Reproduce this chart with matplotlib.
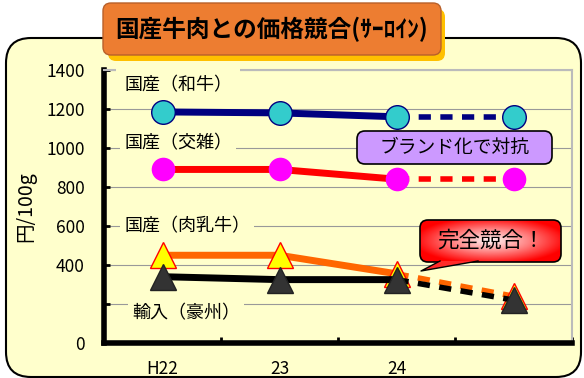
import matplotlib
matplotlib.use("Agg")
import matplotlib.pyplot as plt
from matplotlib.patches import FancyBboxPatch, Polygon
from matplotlib.colors import LinearSegmentedColormap
import numpy as np

plt.rcParams['font.family'] = ['Noto Sans CJK JP', 'DejaVu Sans']

years = ["H22", "23", "24", ""]
wagyu = [1185, 1180, 1160, 1160]
kousha = [890, 890, 840, 840]
nyuyushi = [450, 450, 355, 240]
import_aus = [340, 325, 325, 220]
yticks = [0, 200, 400, 600, 800, 1000, 1200, 1400]
ytick_labels = ["0", "", "400", "600", "800", "1000", "1200", "1400"]

W, H = 584, 378
fig = plt.figure(figsize=(W/100, H/100), dpi=100)
fig.patch.set_facecolor('white')
bg = '#FFFFCC'
FA = W / H

# outer frame
frame = FancyBboxPatch((6/W, 1/H), 575/W, 339/H,
                       boxstyle="round,pad=0,rounding_size=%f" % (25/W),
                       transform=fig.transFigure, facecolor=bg, edgecolor='black',
                       linewidth=1.5, zorder=-5, mutation_aspect=FA)
fig.patches.append(frame)

AX_L, AX_R, AX_T, AX_B = 104, 572, 70, 343
AW, AH = AX_R - AX_L, AX_B - AX_T
ax = fig.add_axes([AX_L/W, 1-AX_B/H, AW/W, AH/H])
ax.set_zorder(1)
ax.set_facecolor(bg)
x = np.arange(4)

def axfrac(px, py):
    return (px - AX_L) / AW, (AX_B - py) / AH

ax.set_yticks(yticks)
ax.set_yticklabels(ytick_labels, fontsize=12.5)
ax.yaxis.grid(True, color='#999999', linewidth=0.8)
ax.set_axisbelow(True)
ax.set_xticks(x)
ax.set_xticklabels(years, fontsize=12.5)
ax.tick_params(axis='x', length=0, pad=12)
ax.set_xticks([0.5, 1.5, 2.5, 3.5], minor=True)
ax.tick_params(axis='x', which='minor', direction='in', length=4, width=2)
ax.tick_params(axis='y', direction='in', length=4, width=2, pad=14)
for s in ['left', 'bottom']:
    ax.spines[s].set_linewidth(4)
    ax.spines[s].set_color('black')
for s in ['top', 'right']:
    ax.spines[s].set_color('#BBBBBB')
    ax.spines[s].set_linewidth(1.5)

ax.set_ylabel("円/100g", fontsize=14)
ax.yaxis.set_label_coords(-0.145, 0.5)

def series(vals, lc, marker, mfc, mec, ms, mew, z):
    ax.plot(x[:3], vals[:3], color=lc, linewidth=5, solid_capstyle='butt', zorder=z)
    ax.plot(x[2:], vals[2:], color=lc, linewidth=4, linestyle=(0, (2.2, 1.7)), zorder=z)
    ax.plot(x, vals, linestyle='none', marker=marker, markerfacecolor=mfc,
            markeredgecolor=mec, markersize=ms, markeredgewidth=mew, zorder=z+0.5)

series(wagyu, '#000080', 'o', '#33CCCC', '#000080', 17, 1, 5)
series(kousha, '#FF0000', 'o', '#FF00FF', '#FF00FF', 17, 0, 5)
series(nyuyushi, '#FF6600', '^', '#FFFF00', '#FF0000', 19, 1, 5)
series(import_aus, '#000000', '^', '#333333', '#222222', 19, 1, 6)

for txt, px, py, pad in [("国産（和牛）", 124, 85, 6), ("国産（交雑）", 124, 143, 3),
                         ("国産（肉乳牛）", 124, 226, 3), ("輸入（豪州）", 132, 313, 3)]:
    fx, fy = axfrac(px, py)
    ax.text(fx, fy, txt, fontsize=13, va='center', ha='left', zorder=3,
            bbox=dict(facecolor=bg, edgecolor='none', pad=pad),
            transform=ax.transAxes, clip_on=False)

# lavender box
AA = AW / AH
x0, y1 = axfrac(357, 131)
x1, y0 = axfrac(552, 164)
lav = FancyBboxPatch((x0, y0), x1-x0, y1-y0, boxstyle="round,pad=0,rounding_size=%f" % (8/AW),
                     transform=ax.transAxes, facecolor='#CC99FF', edgecolor='black',
                     linewidth=1.2, zorder=8, mutation_aspect=AA)
ax.add_patch(lav)
ax.text((x0+x1)/2, (y0+y1)/2, "ブランド化で対抗", fontsize=13.5, ha='center', va='center',
        transform=ax.transAxes, zorder=9)

# red callout with radial gradient
x0, y1 = axfrac(420, 220)
x1, y0 = axfrac(561, 262)
tail = [axfrac(440, 261), axfrac(421, 271), axfrac(478, 261)]
tp = Polygon(tail, closed=True, transform=ax.transAxes, facecolor='#FF2A2A',
             edgecolor='none', zorder=8.6)
ax.add_patch(tp)
ax.plot([tail[0][0], tail[1][0], tail[2][0]], [tail[0][1], tail[1][1], tail[2][1]],
        color='black', linewidth=1.0, transform=ax.transAxes, zorder=8.7)
red = FancyBboxPatch((x0, y0), x1-x0, y1-y0, boxstyle="round,pad=0,rounding_size=%f" % (8/AW),
                     transform=ax.transAxes, facecolor='none', edgecolor='black',
                     linewidth=1.2, zorder=8.5, mutation_aspect=AA)
ax.add_patch(red)
gx, gy = np.meshgrid(np.linspace(-1, 1, 200), np.linspace(-1, 1, 80))
r = np.clip(np.sqrt(gx**2 + gy**2) / 1.1, 0, 1)
cmap = LinearSegmentedColormap.from_list('rg', ['#FFF4F4', '#FF8080', '#FF0000'])
im = ax.imshow(r, cmap=cmap, extent=[x0, x1, y0, y1], transform=ax.transAxes,
               aspect='auto', zorder=8.4, interpolation='bilinear')
im.set_clip_path(red)
ax.text((x0+x1)/2, (y0+y1)/2, "完全競合！", fontsize=15.5, ha='center', va='center',
        transform=ax.transAxes, zorder=9)

ax.set_xlim(-0.5, 3.5)
ax.set_ylim(0, 1400)
ax.set_aspect('auto')

# title box
shadow = FancyBboxPatch((108/W, 1-61/H), 337/W, 52/H,
                        boxstyle="round,pad=0,rounding_size=%f" % (8/W),
                        transform=fig.transFigure, facecolor='#FFC000', edgecolor='none',
                        zorder=9, mutation_aspect=FA)
fig.patches.append(shadow)
tbox = FancyBboxPatch((103/W, 1-55/H), 338/W, 52/H,
                      boxstyle="round,pad=0,rounding_size=%f" % (8/W),
                      transform=fig.transFigure, facecolor='#ED7D31', edgecolor='#B8602A',
                      linewidth=1, zorder=10, mutation_aspect=FA)
fig.patches.append(tbox)
fig.text(272/W, 1-29/H, "国産牛肉との価格競合(ｻｰﾛｲﾝ)", fontsize=17, fontweight='bold',
         ha='center', va='center', zorder=11)

fig.savefig("out.png", dpi=100)
